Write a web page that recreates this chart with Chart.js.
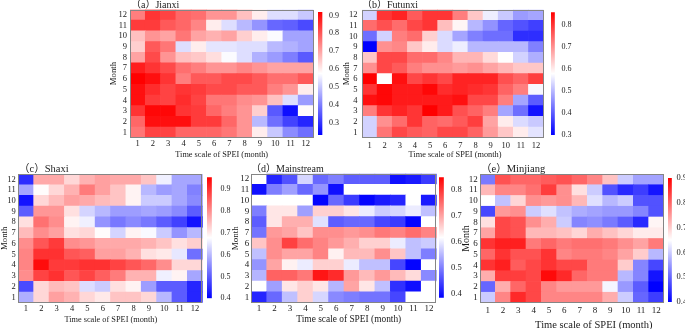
<!DOCTYPE html>
<html><head><meta charset="utf-8">
<script src="https://cdn.jsdelivr.net/npm/chart.js@4.4.1/dist/chart.umd.min.js"></script>
<style>
html,body{margin:0;padding:0;background:#fff;}
#fig{position:relative;width:685px;height:329px;overflow:hidden;background:#fff;}
#fig canvas{position:absolute;}
</style></head><body><div id="fig"></div>
<script>
// ---------- data ----------
const timeScales = ['1','2','3','4','5','6','7','8','9','10','11','12'];
const months = ['1','2','3','4','5','6','7','8','9','10','11','12'];

// rows = month 1..12, columns = SPEI time scale 1..12
const jianxi = [
 [0.76,0.83,0.83,0.78,0.78,0.78,0.76,0.72,0.60,0.50,0.42,0.38],
 [0.78,0.90,0.90,0.90,0.84,0.84,0.78,0.72,0.48,0.38,0.32,0.28],
 [0.85,0.91,0.91,0.85,0.84,0.78,0.75,0.72,0.64,0.35,0.25,0.58],
 [0.90,0.84,0.83,0.86,0.83,0.76,0.76,0.73,0.72,0.66,0.53,0.44],
 [0.90,0.86,0.83,0.85,0.84,0.82,0.82,0.80,0.80,0.75,0.72,0.60],
 [0.92,0.90,0.85,0.75,0.80,0.80,0.82,0.82,0.80,0.77,0.77,0.80],
 [0.88,0.85,0.82,0.77,0.75,0.72,0.72,0.74,0.72,0.70,0.70,0.70],
 [0.70,0.82,0.72,0.66,0.65,0.62,0.57,0.53,0.47,0.44,0.40,0.35],
 [0.64,0.80,0.76,0.53,0.60,0.54,0.54,0.53,0.53,0.48,0.47,0.45],
 [0.66,0.72,0.70,0.76,0.70,0.68,0.70,0.64,0.60,0.57,0.45,0.45],
 [0.84,0.84,0.80,0.78,0.74,0.60,0.53,0.48,0.43,0.37,0.36,0.33],
 [0.75,0.85,0.83,0.78,0.77,0.72,0.72,0.66,0.60,0.53,0.53,0.50]
];
const futunxi = [
 [0.53,0.73,0.78,0.76,0.75,0.78,0.78,0.75,0.69,0.64,0.60,0.55],
 [0.53,0.70,0.74,0.80,0.75,0.74,0.76,0.79,0.68,0.60,0.54,0.52],
 [0.72,0.80,0.82,0.80,0.86,0.83,0.77,0.75,0.72,0.48,0.42,0.32],
 [0.84,0.85,0.83,0.83,0.83,0.83,0.84,0.78,0.78,0.72,0.48,0.40],
 [0.80,0.85,0.83,0.83,0.85,0.81,0.82,0.81,0.80,0.75,0.72,0.57],
 [0.86,0.58,0.84,0.78,0.80,0.78,0.82,0.82,0.82,0.77,0.75,0.79],
 [0.70,0.78,0.76,0.72,0.70,0.70,0.69,0.70,0.68,0.66,0.64,0.64],
 [0.64,0.78,0.78,0.74,0.74,0.71,0.66,0.66,0.62,0.58,0.53,0.49],
 [0.30,0.70,0.71,0.64,0.60,0.54,0.56,0.50,0.50,0.50,0.50,0.44],
 [0.42,0.53,0.72,0.74,0.63,0.54,0.48,0.44,0.42,0.42,0.35,0.35],
 [0.74,0.77,0.74,0.78,0.80,0.65,0.59,0.50,0.46,0.41,0.39,0.37],
 [0.53,0.80,0.82,0.76,0.80,0.80,0.72,0.64,0.56,0.52,0.47,0.48]
];
const shaxi = [
 [0.59,0.72,0.78,0.76,0.72,0.70,0.74,0.74,0.72,0.60,0.50,0.44],
 [0.48,0.72,0.75,0.74,0.64,0.62,0.71,0.69,0.57,0.50,0.50,0.44],
 [0.80,0.88,0.90,0.86,0.88,0.85,0.82,0.76,0.76,0.66,0.69,0.58],
 [0.81,0.94,0.89,0.89,0.90,0.90,0.88,0.86,0.84,0.80,0.72,0.72],
 [0.81,0.90,0.90,0.86,0.85,0.78,0.78,0.76,0.71,0.70,0.65,0.52],
 [0.80,0.86,0.89,0.80,0.79,0.77,0.77,0.77,0.76,0.74,0.71,0.73],
 [0.75,0.80,0.78,0.71,0.72,0.68,0.63,0.69,0.67,0.62,0.56,0.60],
 [0.71,0.83,0.80,0.69,0.66,0.56,0.53,0.55,0.53,0.50,0.47,0.42],
 [0.50,0.79,0.79,0.71,0.63,0.60,0.57,0.57,0.58,0.57,0.55,0.50],
 [0.42,0.72,0.75,0.78,0.77,0.75,0.74,0.69,0.62,0.62,0.58,0.55],
 [0.58,0.68,0.72,0.76,0.82,0.78,0.74,0.69,0.60,0.57,0.58,0.54],
 [0.45,0.77,0.77,0.72,0.76,0.78,0.77,0.77,0.74,0.66,0.58,0.58]
];
const mainstream = [
 [0.42,0.48,0.56,0.66,0.58,0.51,0.50,0.49,0.49,0.45,null,null],
 [null,0.53,0.64,0.66,0.64,0.55,0.70,0.64,0.56,0.43,0.40,null],
 [0.55,0.76,0.76,0.74,0.83,0.81,0.71,0.68,0.71,0.68,0.65,0.51],
 [0.52,0.70,0.63,0.60,0.66,0.66,0.60,0.56,0.56,0.45,0.39,null],
 [0.56,0.72,0.70,0.70,0.73,0.63,0.68,0.68,0.72,0.67,0.56,0.50],
 [0.67,0.72,0.79,0.75,0.73,0.71,0.69,0.66,0.66,0.60,0.56,0.57],
 [0.49,0.71,0.70,0.67,0.72,0.72,0.71,0.72,0.74,0.73,0.75,0.73],
 [0.47,0.64,0.69,0.69,0.59,0.47,0.48,0.48,0.45,0.44,0.39,null],
 [0.50,0.64,0.64,0.53,0.66,0.66,0.64,0.60,0.57,0.58,0.60,0.56],
 [null,null,null,null,0.39,0.48,0.44,0.39,0.41,0.42,null,0.41],
 [0.40,0.50,0.53,0.48,0.52,0.40,null,null,null,null,null,null],
 [null,0.42,0.46,0.58,0.48,0.50,0.47,0.47,0.47,0.40,0.41,0.44]
];
const minjiang = [
 [0.60,0.77,0.86,0.83,0.77,0.77,0.77,0.77,0.73,0.60,0.50,0.46],
 [0.50,0.73,0.80,0.83,0.77,0.75,0.75,0.75,0.64,0.55,0.49,0.40],
 [0.73,0.84,0.84,0.83,0.89,0.86,0.80,0.78,0.78,0.58,0.53,0.42],
 [0.85,0.87,0.81,0.83,0.85,0.83,0.83,0.78,0.78,0.70,0.53,0.47],
 [0.80,0.85,0.82,0.82,0.85,0.77,0.78,0.78,0.77,0.74,0.70,0.58],
 [0.85,0.87,0.87,0.78,0.80,0.78,0.79,0.79,0.78,0.76,0.74,0.78],
 [0.74,0.83,0.82,0.72,0.72,0.71,0.69,0.73,0.71,0.69,0.67,0.67],
 [0.68,0.83,0.82,0.76,0.73,0.60,0.53,0.54,0.52,0.49,0.44,0.66],
 [0.47,0.75,0.76,0.60,0.62,0.59,0.57,0.56,0.55,0.55,0.53,0.48],
 [0.65,0.59,0.69,0.76,0.75,0.76,0.72,0.62,0.58,0.60,0.48,0.48],
 [0.72,0.77,0.77,0.79,0.84,0.76,0.68,0.60,0.48,0.44,0.46,0.42],
 [0.52,0.82,0.80,0.80,0.81,0.82,0.80,0.77,0.71,0.60,0.56,0.56]
];

// colour-bar ranges and tick labels
const rangeA = [0.23, 0.92], ticksA = [0.3,0.4,0.5,0.6,0.7,0.8,0.9];
const rangeB = [0.30, 0.858], ticksB = [0.3,0.4,0.5,0.6,0.7,0.8];
const rangeC = [0.40, 0.953], ticksC = [0.4,0.5,0.6,0.7,0.8,0.9];
const rangeD = [0.386, 0.849], ticksD = [0.4,0.5,0.6,0.7,0.8];
const rangeE = [0.40, 0.90], ticksE = [0.4,0.5,0.6,0.7,0.8,0.9];

const titles = ['（a）Jianxi','（b）Futunxi','（c）Shaxi','（d）Mainstream','（e）Minjiang'];
const xTitle = 'Time scale of SPEI (month)';
const yTitle = 'Month';

const panels = [
 {title:titles[0], values:jianxi, range:rangeA, ticks:ticksA},
 {title:titles[1], values:futunxi, range:rangeB, ticks:ticksB},
 {title:titles[2], values:shaxi, range:rangeC, ticks:ticksC},
 {title:titles[3], values:mainstream, range:rangeD, ticks:ticksD},
 {title:titles[4], values:minjiang, range:rangeE, ticks:ticksE}
];

// ---------- layout (page pixels) ----------
const layouts = [
 {box:{l:100,t:0,r:315,b:165}, plot:{l:130,r:313.5,t:9.5,b:137.7}, cbar:{l:318,r:326,t:12,b:135},
  tX:131,tY:5,tS:10, yTX:114,yTS:8.7, xTX:221.7,xTY:155,xTS:8.3, tickS:8.5, yPad:3, xPad:1.2, cbPad:3, cbS:8},
 {box:{l:340,t:0,r:545,b:165}, plot:{l:362,r:543.6,t:9.7,b:137.7}, cbar:{l:551,r:558,t:12.3,b:135},
  tX:362,tY:5,tS:10, yTX:347,yTS:8.7, xTX:455,xTY:155,xTS:8.3, tickS:8.5, yPad:4.5, xPad:2.5, cbPad:3.5, cbS:8},
 {box:{l:0,t:158,r:204,b:329}, plot:{l:18.3,r:202.7,t:174,b:302.7}, cbar:{l:207.3,r:216.5,t:177.3,b:298.3},
  tX:19,tY:169,tS:10.5, yTX:5,yTS:8.7, xTX:110.8,xTY:320,xTS:8.3, tickS:8.5, yPad:2.6, xPad:1.2, cbPad:4.5, cbS:8},
 {box:{l:225,t:158,r:438,b:329}, plot:{l:251.3,r:436.7,t:173.7,b:302.7}, cbar:{l:438.5,r:447,t:177.3,b:297.7},
  tX:251,tY:169,tS:10, yTX:235.5,yTS:9, xTX:348.8,xTY:320,xTS:9.4, tickS:9, yPad:2, xPad:1, cbPad:3, cbS:8.5},
 {box:{l:455,t:158,r:666,b:329}, plot:{l:480,r:664,t:174,b:303}, cbar:{l:668,r:675,t:178,b:302},
  tX:481,tY:169,tS:10.5, yTX:466.7,yTS:10, xTX:593.8,xTY:325,xTS:10.5, tickS:9, yPad:2.3, xPad:2.3, cbPad:1.5, cbS:8.5}
];

const FAMILY = "'Liberation Serif','Times New Roman','Noto Sans CJK SC',serif";
const TXT = '#1a1a1a';
Chart.defaults.font.family = FAMILY;
Chart.defaults.color = TXT;

function bwr(v, lo, hi){
  if (v === null || v === undefined) return 'rgb(255,255,255)';
  let t = (v - lo) / (hi - lo); t = Math.max(0, Math.min(1, t));
  let r, g, b;
  if (t < 0.5){ r = g = Math.round(510*t); b = 255; }
  else { r = 255; g = b = Math.round(510*(1-t)); }
  return `rgb(${r},${g},${b})`;
}

const fig = document.getElementById('fig');
function makeCanvas(l,t,w,h){
  const c = document.createElement('canvas');
  c.width = Math.round(w); c.height = Math.round(h);
  c.style.left = l+'px'; c.style.top = t+'px';
  c.style.width = Math.round(w)+'px'; c.style.height = Math.round(h)+'px';
  fig.appendChild(c);
  return c;
}

const framePlugin = {
  id:'frame',
  afterDatasetsDraw(chart){
    const {ctx, chartArea:a} = chart;
    ctx.save(); ctx.strokeStyle = '#858585'; ctx.lineWidth = 1;
    ctx.strokeRect(Math.round(a.left)+0.5, Math.round(a.top)+0.5, Math.round(a.right-a.left)-1, Math.round(a.bottom-a.top)-1);
    ctx.restore();
  }
};
const textPlugin = {
  id:'panelText',
  afterDraw(chart, args, opts){
    const ctx = chart.ctx;
    (opts.items||[]).forEach(it=>{
      ctx.save();
      ctx.font = `${it.size}px ${FAMILY}`;
      ctx.fillStyle = TXT;
      ctx.textAlign = it.align || 'center';
      ctx.textBaseline = 'middle';
      ctx.translate(it.x - opts.ox, it.y - opts.oy);
      if (it.rot) ctx.rotate(it.rot);
      ctx.fillText(it.text, 0, 0);
      ctx.restore();
    });
  }
};

panels.forEach((p, k)=>{
  const L = layouts[k];
  const [lo, hi] = p.range;
  // ---- heat map ----
  const cv = makeCanvas(L.box.l, L.box.t, L.box.r-L.box.l, L.box.b-L.box.t);
  const yW = L.plot.l - L.box.l;
  const xH = L.box.b - L.plot.b;
  new Chart(cv, {
    type:'bar',
    data:{
      labels: timeScales,
      datasets: months.map((m,i)=>({
        label:'Month '+m,
        data: timeScales.map((s,j)=>({x:s, y:[i, i+1], v:p.values[i][j]})),
        backgroundColor: ctx => bwr(ctx.raw ? ctx.raw.v : null, lo, hi),
        borderWidth:0, barPercentage:1, categoryPercentage:1, grouped:false
      }))
    },
    options:{
      responsive:false, animation:false, devicePixelRatio:1,
      layout:{padding:{left:0, top:L.plot.t-L.box.t, right:L.box.r-L.plot.r, bottom:0}},
      plugins:{legend:{display:false}, tooltip:{enabled:false},
        panelText:{ox:L.box.l, oy:L.box.t, items:[
          {text:p.title, x:L.tX, y:L.tY, size:L.tS, align:'left'},
          {text:yTitle, x:L.yTX, y:(L.plot.t+L.plot.b)/2, size:L.yTS, rot:-Math.PI/2},
          {text:xTitle, x:L.xTX, y:L.xTY, size:L.xTS}
        ]}},
      scales:{
        x:{type:'category', offset:true, grid:{display:false, drawTicks:false}, border:{display:false},
           ticks:{autoSkip:false, maxRotation:0, padding:L.xPad, font:{size:L.tickS}},
           afterFit: s=>{ s.height = xH; }},
        y:{type:'linear', min:0, max:12, grid:{display:false, drawTicks:false}, border:{display:false},
           afterBuildTicks: s=>{ s.ticks = months.map((m,i)=>({value:i+0.5})); },
           ticks:{autoSkip:false, padding:L.yPad, font:{size:L.tickS},
                  callback: v => months[Math.floor(v)]},
           afterFit: s=>{ s.width = yW; }}
      }
    },
    plugins:[framePlugin, textPlugin]
  });

  // ---- colour bar ----
  const cbW = L.cbar.r - L.cbar.l;
  const cbCanvasW = cbW + 30;
  const cc = makeCanvas(L.cbar.l, L.box.t, cbCanvasW, L.box.b - L.box.t);
  new Chart(cc, {
    type:'bar',
    data:{ labels:['cb'], datasets:[{
      data:[[lo, hi]],
      backgroundColor: ctx => {
        const a = ctx.chart.chartArea; if (!a) return 'rgba(0,0,0,0)';
        const g = ctx.chart.ctx.createLinearGradient(0, a.bottom, 0, a.top);
        g.addColorStop(0, 'rgb(0,0,255)'); g.addColorStop(0.5, 'rgb(255,255,255)'); g.addColorStop(1, 'rgb(255,0,0)');
        return g;
      },
      borderWidth:0, barPercentage:1, categoryPercentage:1
    }]},
    options:{
      responsive:false, animation:false, devicePixelRatio:1,
      layout:{padding:{left:0, right:0, top:L.cbar.t-L.box.t, bottom:L.box.b-L.cbar.b}},
      plugins:{legend:{display:false}, tooltip:{enabled:false}},
      scales:{
        x:{display:false, offset:false},
        y:{position:'right', min:lo, max:hi, grid:{display:false, drawTicks:false}, border:{display:false},
           afterBuildTicks: s=>{ s.ticks = p.ticks.map(v=>({value:v})); },
           ticks:{autoSkip:false, padding:L.cbPad, font:{size:L.cbS}, callback: v => Number(v).toFixed(1)},
           afterFit: s=>{ s.width = cbCanvasW - cbW; }}
      }
    }
  });
});
</script>
</body></html>
